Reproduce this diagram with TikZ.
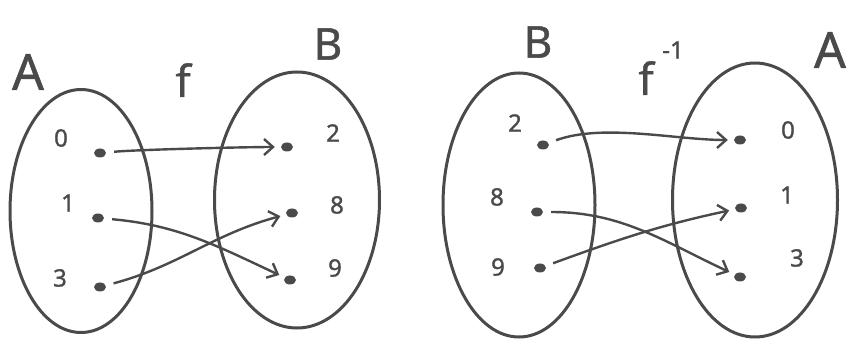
\documentclass[tikz,border=0pt]{standalone}
\usepackage{fontspec}
\setmainfont{Noto Sans}
\usetikzlibrary{shapes.geometric,arrows.meta}
\definecolor{ink}{HTML}{4A4A4A}
\begin{document}
\begin{tikzpicture}[x=1pt,y=-1pt,
  setshape/.style={draw=ink,line width=3pt,ellipse,inner sep=0pt},
  dot/.style={ellipse,fill=ink,inner sep=0pt,minimum width=12pt,minimum height=9pt},
  num/.style={text=ink,font=\fontsize{24}{26}\selectfont\addfontfeature{FakeBold=1.2}},
  big/.style={text=ink,font=\fontsize{50}{52}\selectfont\addfontfeature{FakeBold=1}},
  mid/.style={text=ink,font=\fontsize{44}{46}\selectfont\addfontfeature{FakeBold=1}},
  map/.style={draw=ink,line width=2.4pt,-{Straight Barb[length=9pt,width=16pt,line width=2.4pt]},shorten <=8pt,shorten >=6pt}]
\useasboundingbox (0,0) rectangle (847,339);
% ---------- left panel: f ----------
\node[setshape,minimum width=142pt,minimum height=243pt] (SA) at (81,211) {};
\node[setshape,minimum width=165pt,minimum height=256pt] (SB) at (297,200) {};
\node[big] (LA) at (28,72) {A};
\node[mid] (Lf) at (183,80) {f};
\node[mid] (LB) at (328,44) {B};
\node[num] (a0) at (61,138) {0};
\node[num] (a1) at (68,203) {1};
\node[num] (a3) at (60,278) {3};
\node[dot] (da0) at (100,153) {};
\node[dot] (da1) at (98,218) {};
\node[dot] (da3) at (100,287) {};
\node[num] (b2) at (333,133) {2};
\node[num] (b8) at (337,205) {8};
\node[num] (b9) at (335,268) {9};
\node[dot] (db2) at (287,147) {};
\node[dot] (db8) at (292,213) {};
\node[dot] (db9) at (290,280) {};
\draw[map] (da0) to[out=5,in=180,looseness=0.5] (db2);
\draw[map] (da1) to[out=-5,in=155] (db9);
\draw[map] (da3) to[out=15,in=195] (db8);
% ---------- right panel: f^{-1} ----------
\node[setshape,minimum width=152pt,minimum height=264pt] (TB) at (519,205) {};
\node[setshape,minimum width=165pt,minimum height=274pt] (TA) at (755,200) {};
\node[mid] (RB) at (538,42) {B};
\node[mid] (Rf) at (646,78) {f};
\node[num] (Rm) at (673,50) {-1};
\node[big] (RA) at (830,50) {A};
\node[num] (c2) at (515,123) {2};
\node[num] (c8) at (497,197) {8};
\node[num] (c9) at (498,267) {9};
\node[dot] (dc2) at (543,145) {};
\node[dot] (dc8) at (537,212) {};
\node[dot] (dc9) at (540,268) {};
\node[num] (e0) at (788,130) {0};
\node[num] (e1) at (787,195) {1};
\node[num] (e3) at (797,258) {3};
\node[dot] (de0) at (740,140) {};
\node[dot] (de1) at (741,208) {};
\node[dot] (de3) at (740,277) {};
\draw[map] (dc2) to[out=20,in=180,looseness=0.8] (de0);
\draw[map] (dc8) to[out=0,in=155] (de3);
\draw[map] (dc9) to[out=20,in=192] (de1);
\end{tikzpicture}
\end{document}
